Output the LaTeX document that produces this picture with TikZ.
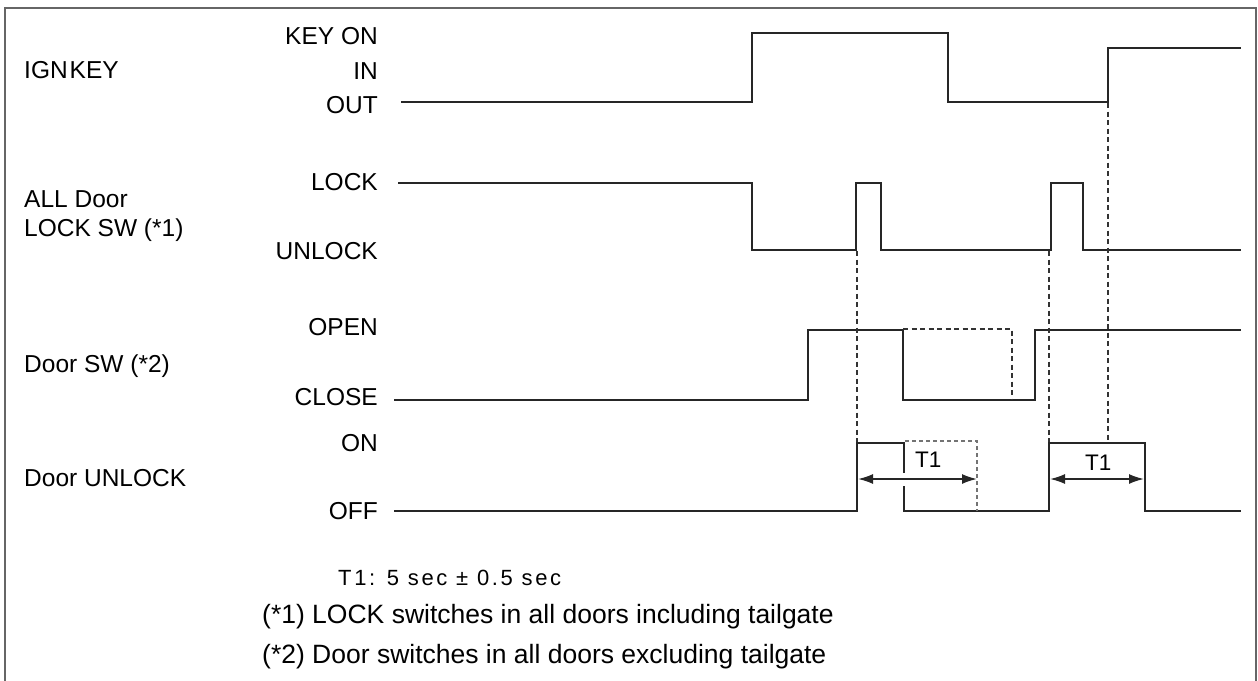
\documentclass[tikz,border=0pt]{standalone}
\usepackage{fontspec}
\setmainfont{Liberation Sans}
\newfontfamily\spacedfont[LetterSpace=12]{Liberation Sans}
\usetikzlibrary{arrows.meta}
\begin{document}
\begin{tikzpicture}[x=1pt,y=-1pt,
  wave/.style={line width=2.6pt, draw=black!85, line join=miter, line cap=butt},
  guide/.style={line width=1.8pt, draw=black!80, dash pattern=on 5pt off 3.5pt},
  ghost/.style={line width=1.3pt, draw=black!55, dash pattern=on 4pt off 3pt},
  dim/.style={line width=1.7pt, draw=black!85, {Latex[length=15pt,width=10pt]}-{Latex[length=15pt,width=10pt]}},
  lvl/.style={font=\fontsize{24.5}{28}\selectfont, inner sep=0pt, anchor=base east},
  sig/.style={font=\fontsize{24.5}{28}\selectfont, inner sep=0pt, anchor=base west},
  note/.style={font=\fontsize{26.5}{30}\selectfont, inner sep=0pt, anchor=base west},
  tlab/.style={font=\fontsize{22.5}{26}\selectfont, inner sep=0pt, anchor=base west}]
\useasboundingbox (0,0) rectangle (1258,680);
% frame
\draw[line width=2pt, draw=black!60] (5,690) -- (5,8) -- (1256,8) -- (1256,690);

% signal names
\node[sig] (ign) at (24,78) {IGN\kern2pt KEY};
\node[sig] (all) at (24,207) {ALL Door};
\node[sig] (lsw) at (24,236) {LOCK SW (*1)};
\node[sig] (dsw) at (24,372) {Door SW (*2)};
\node[sig] (dul) at (24,486) {Door UNLOCK};

% level names
\node[lvl] (keyon) at (378,44) {KEY ON};
\node[lvl] (in) at (378,79) {IN};
\node[lvl] (out) at (378,113) {OUT};
\node[lvl] (lock) at (378,190) {LOCK};
\node[lvl] (unlock) at (378,259) {UNLOCK};
\node[lvl] (open) at (378,335) {OPEN};
\node[lvl] (close) at (378,405) {CLOSE};
\node[lvl] (on) at (378,451) {ON};
\node[lvl] (off) at (378,519) {OFF};

% waveforms
\draw[wave] (401,102) -- (752,102) -- (752,33) -- (948,33) -- (948,102) -- (1108,102) -- (1108,48) -- (1241,48);
\draw[wave] (398,183) -- (752,183) -- (752,250) -- (856,250) -- (856,183) -- (881,183) -- (881,250)
  -- (1051,250) -- (1051,183) -- (1083,183) -- (1083,250) -- (1241,250);
\draw[wave] (394,400) -- (808,400) -- (808,330) -- (903,330) -- (903,400) -- (1035,400) -- (1035,330) -- (1241,330);
\draw[guide] (903,329) -- (1012,329) -- (1012,400);
\draw[wave] (394,511) -- (857,511) -- (857,443) -- (904,443) -- (904,473);
\draw[wave] (904,486) -- (904,511) -- (1049,511) -- (1049,443) -- (1145,443) -- (1145,511) -- (1241,511);
\draw[ghost] (905,441) -- (977,441) -- (977,511);

% guides
\draw[guide] (857,251) -- (857,442);
\draw[guide] (1049,251) -- (1049,442);
\draw[guide] (1108,103) -- (1108,442);

% T1 dimensions
\coordinate (a1) at (858,479);
\coordinate (b1) at (977,479);
\coordinate (a2) at (1050,479);
\coordinate (b2) at (1144,479);
\draw[dim] (a1) -- (b1);
\draw[dim] (a2) -- (b2);
\node[tlab] (t1a) at (915,467) {T1};
\node[tlab] (t1b) at (1085,470) {T1};

% notes
\node[tlab, font=\spacedfont\fontsize{22}{26}\selectfont] (tnote) at (338,585) {T1: 5 sec ± 0.5 sec};
\node[note] (n1) at (262,623) {(*1) LOCK switches in all doors including tailgate};
\node[note] (n2) at (262,663) {(*2) Door switches in all doors excluding tailgate};
\end{tikzpicture}
\end{document}
